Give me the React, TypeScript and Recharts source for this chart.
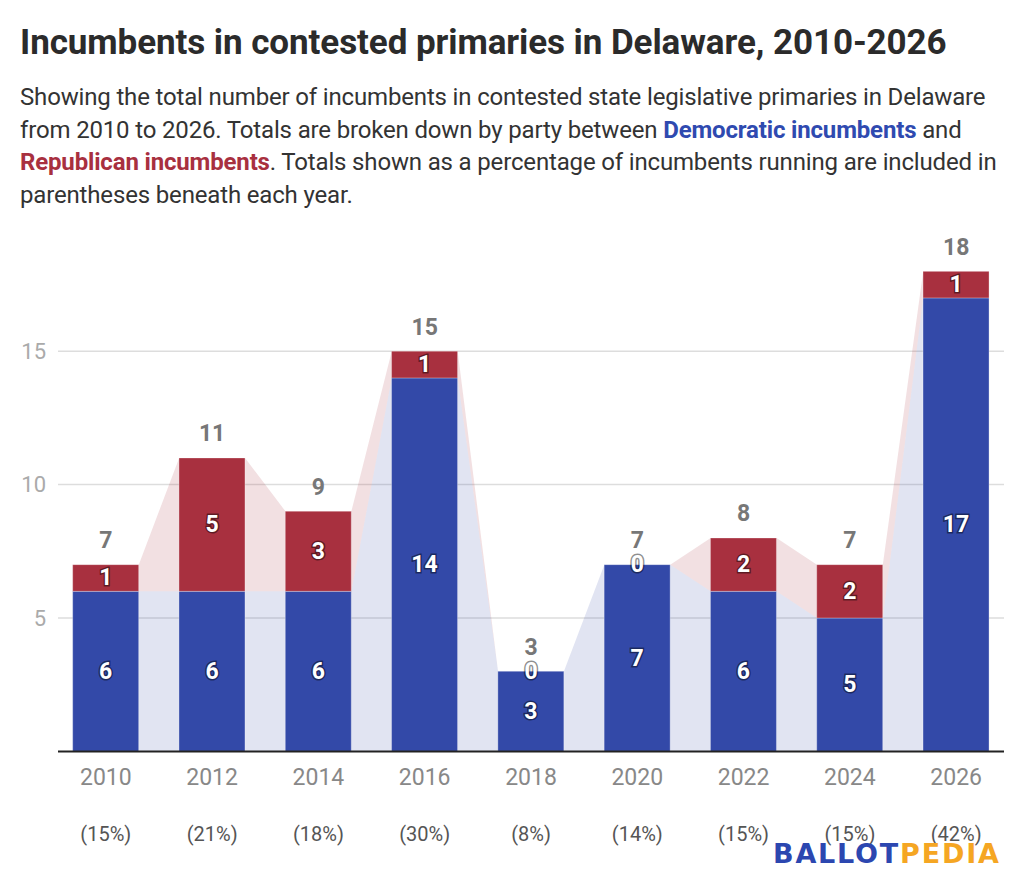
import React from 'react';
import { ComposedChart, Bar, Area, Line, XAxis, YAxis, CartesianGrid, LabelList } from 'recharts';

const years = [2010, 2012, 2014, 2016, 2018, 2020, 2022, 2024, 2026];
const democraticIncumbents = [6, 6, 6, 14, 3, 7, 6, 5, 17];
const republicanIncumbents = [1, 5, 3, 1, 0, 0, 2, 2, 1];
const percentOfRunning = ['15%', '21%', '18%', '30%', '8%', '14%', '15%', '15%', '42%'];
const yTicks = [5, 10, 15];

const BLUE = '#3349A8';
const RED = '#A8303F';
const FONT = 'Roboto, "Noto Sans", sans-serif';
const X_DOMAIN: [number, number] = [2009.1, 2026.9];
const HALF_BAR_YEARS = 0.62;

const barData = years.map((year, i) => ({
  year,
  dem: democraticIncumbents[i],
  rep: republicanIncumbents[i],
  repMid: democraticIncumbents[i] + republicanIncumbents[i] / 2,
  total: democraticIncumbents[i] + republicanIncumbents[i],
}));

const connectorData = barData.flatMap((d) => [
  { year: d.year - HALF_BAR_YEARS, dem: d.dem, gop: [d.dem, d.total] },
  { year: d.year + HALF_BAR_YEARS, dem: d.dem, gop: [d.dem, d.total] },
]);

const box = (props: any) => {
  const vb = props.viewBox || {};
  const x = Number(vb.x ?? props.x);
  const y = Number(vb.y ?? props.y);
  const w = Number(vb.width ?? props.width) || 0;
  const h = Number(vb.height ?? props.height) || 0;
  return { x, y, w, h };
};

const haloText = (cx: number, cy: number, value: any) => (
  <text
    x={cx}
    y={cy}
    textAnchor="middle"
    dominantBaseline="central"
    fill="#ffffff"
    stroke="rgba(0,0,0,0.45)"
    strokeWidth={3}
    paintOrder="stroke"
    fontFamily={FONT}
    fontWeight={700}
    fontSize={23}
  >
    {value}
  </text>
);

const renderInnerLabel = (props: any) => {
  const { x, y, w, h } = box(props);
  return haloText(x + w / 2, y + h / 2, props.value);
};

const renderTotalLabel = (props: any) => {
  const { x, y, w } = box(props);
  return (
    <text
      x={x + w / 2}
      y={y - 24}
      textAnchor="middle"
      dominantBaseline="central"
      fill="#777777"
      fontFamily={FONT}
      fontWeight={700}
      fontSize={23}
    >
      {props.value}
    </text>
  );
};

const YearTick = (props: any) => {
  const { x, y, payload } = props;
  const idx = years.indexOf(payload.value);
  return (
    <g>
      <text x={x} y={y + 20} textAnchor="middle" dominantBaseline="central" fill="#888888" fontFamily={FONT} fontSize={23}>
        {payload.value}
      </text>
      <text x={x} y={y + 77} textAnchor="middle" dominantBaseline="central" fill="#555555" fontFamily={FONT} fontSize={20}>
        ({percentOfRunning[idx]})
      </text>
    </g>
  );
};

export default function App() {
  return (
    <div style={{ position: 'absolute', left: 0, top: 0, width: 1024, height: 892, background: '#fff', overflow: 'hidden' }}>
      <div style={{ position: 'absolute', left: 0, top: 0 }}>
        <ComposedChart
          width={1024}
          height={892}
          data={barData}
          margin={{ top: 271.2, right: 20, bottom: 40.6, left: 0 }}
        >
          <CartesianGrid
            xAxisId="bars"
            vertical={false}
            horizontalValues={yTicks}
            syncWithTicks
            stroke="#dddddd"
            strokeWidth={1.5}
          />
          <XAxis
            xAxisId="bars"
            dataKey="year"
            type="number"
            domain={X_DOMAIN}
            allowDataOverflow
            ticks={years}
            interval={0}
            height={100}
            tickLine={false}
            tickSize={6}
            tickMargin={0}
            axisLine={{ stroke: '#222222', strokeWidth: 2 }}
            tick={<YearTick />}
          />
          <XAxis xAxisId="conn" dataKey="year" type="number" domain={X_DOMAIN} allowDataOverflow hide />
          <YAxis
            domain={[0, 18]}
            ticks={yTicks}
            allowDataOverflow
            width={58}
            axisLine={false}
            tickLine={false}
            tickMargin={6}
            tick={{ fill: '#aaaaaa', fontSize: 22, fontFamily: FONT }}
          />
          <Area
            xAxisId="conn"
            data={connectorData}
            dataKey="dem"
            type="linear"
            stroke="none"
            fill={BLUE}
            fillOpacity={0.15}
            isAnimationActive={false}
          />
          <Area
            xAxisId="conn"
            data={connectorData}
            dataKey="gop"
            type="linear"
            stroke="none"
            fill={RED}
            fillOpacity={0.15}
            isAnimationActive={false}
          />
          <Bar xAxisId="bars" dataKey="dem" stackId="p" fill={BLUE} barSize={66} stroke="rgba(255,255,255,0.3)" strokeWidth={1} isAnimationActive={false}>
            <LabelList dataKey="dem" content={renderInnerLabel} />
          </Bar>
          <Bar xAxisId="bars" dataKey="rep" stackId="p" fill={RED} barSize={66} stroke="rgba(255,255,255,0.3)" strokeWidth={1} isAnimationActive={false} />
          <Line
            xAxisId="bars"
            dataKey="total"
            stroke="none"
            dot={false}
            activeDot={false}
            legendType="none"
            isAnimationActive={false}
          >
            <LabelList dataKey="total" content={renderTotalLabel} />
          </Line>
          <Line
            xAxisId="bars"
            dataKey="repMid"
            stroke="none"
            dot={false}
            activeDot={false}
            legendType="none"
            isAnimationActive={false}
          >
            <LabelList dataKey="rep" content={renderInnerLabel} />
          </Line>
        </ComposedChart>
      </div>
      <div
        style={{
          position: 'absolute',
          left: 20,
          top: 23,
          fontFamily: FONT,
          fontWeight: 700,
          fontSize: 35,
          lineHeight: '40px',
          color: '#2b2b2b',
          whiteSpace: 'nowrap',
          letterSpacing: -0.08,
        }}
      >
        Incumbents in contested primaries in Delaware, 2010-2026
      </div>
      <div
        style={{
          position: 'absolute',
          left: 20,
          top: 81,
          fontFamily: FONT,
          fontSize: 24,
          lineHeight: '32.5px',
          color: '#333333',
          whiteSpace: 'nowrap',
          letterSpacing: -0.16,
        }}
      >
        <div>Showing the total number of incumbents in contested state legislative primaries in Delaware</div>
        <div>
          from 2010 to 2026. Totals are broken down by party between{' '}
          <span style={{ color: '#2f4ab0', fontWeight: 700 }}>Democratic incumbents</span> and
        </div>
        <div>
          <span style={{ color: '#a8303f', fontWeight: 700 }}>Republican incumbents</span>. Totals shown as a percentage of incumbents running are included in
        </div>
        <div>parentheses beneath each year.</div>
      </div>
      <div
        style={{
          position: 'absolute',
          left: 773,
          top: 840,
          fontFamily: '"DejaVu Sans", sans-serif',
          fontWeight: 700,
          fontSize: 27,
          lineHeight: '27px',
          whiteSpace: 'nowrap',
          letterSpacing: 1.8,
        }}
      >
        <span style={{ color: '#2c47b0' }}>BALLOT</span>
        <span style={{ color: '#f5a623' }}>PEDIA</span>
      </div>
    </div>
  );
}
